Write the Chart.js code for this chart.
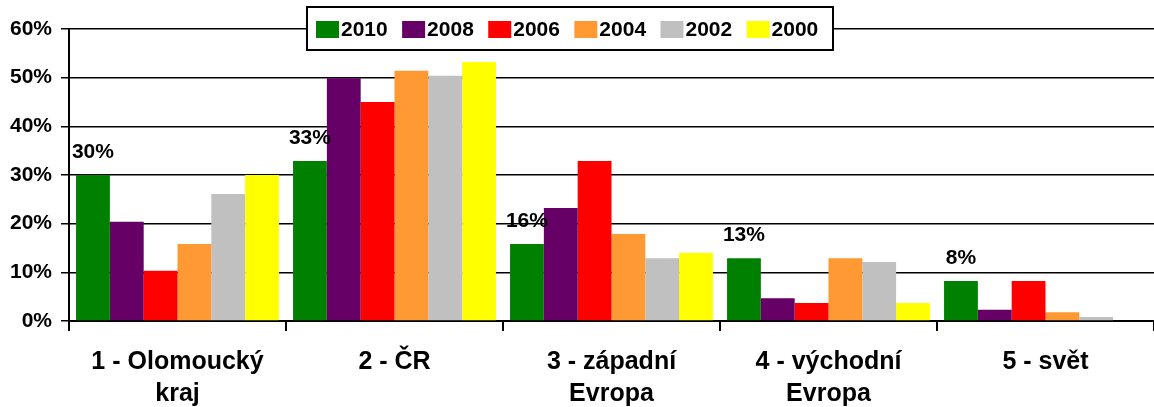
<!DOCTYPE html>
<html>
<head>
<meta charset="utf-8">
<script src="https://cdn.jsdelivr.net/npm/chart.js@4.4.0/dist/chart.umd.min.js"></script>
<style>
  body { margin: 0; background: #fff; }
</style>
</head>
<body>
<canvas id="graph" width="1154" height="407"></canvas>
<script>
const categories = [
  ["1 - Olomoucký", "kraj"],
  ["2 - ČR"],
  ["3 - západní", "Evropa"],
  ["4 - východní", "Evropa"],
  ["5 - svět"]
]
const years = ["2010", "2008", "2006", "2004", "2002", "2000"]
const colors = ["#008000", "#660066", "#FF0000", "#FF9933", "#C0C0C0", "#FFFF00"]

const v2010 = [30, 32.9, 15.8, 12.9, 8.2]
const v2008 = [20.4, 49.9, 23.2, 4.7, 2.3]
const v2006 = [10.3, 45, 32.9, 3.7, 8.2]
const v2004 = [15.8, 51.4, 17.9, 12.9, 1.8]
const v2002 = [26.1, 50.4, 12.9, 12.1, 0.8]
const v2000 = [30, 53.2, 14, 3.7, 0]

const yTicks = [0, 10, 20, 30, 40, 50, 60]

const font = "'Liberation Sans', Arial, sans-serif"
const series = [v2010, v2008, v2006, v2004, v2002, v2000]

const data = {
  labels: categories,
  datasets: series.map((values, i) => ({
    label: years[i],
    data: values,
    backgroundColor: colors[i],
    borderWidth: 0,
    categoryPercentage: 0.935,
    barPercentage: 1
  }))
}

// value labels above the 2010 bars
const topLabels = {
  id: "topLabels",
  afterDatasetsDraw(chart) {
    const ctx = chart.ctx
    const meta = chart.getDatasetMeta(0)
    ctx.save()
    ctx.font = "bold 21px " + font
    ctx.fillStyle = "#000"
    ctx.textAlign = "center"
    ctx.textBaseline = "alphabetic"
    meta.data.forEach((bar, i) => {
      ctx.fillText(Math.round(v2010[i]) + "%", bar.x, bar.y - 17)
    })
    ctx.restore()
  }
}

// boxed legend drawn over the top of the plot
const boxLegend = {
  id: "boxLegend",
  afterDraw(chart) {
    const ctx = chart.ctx
    const left = 307, top = 7, w = 526, h = 43
    ctx.save()
    ctx.fillStyle = "#fff"
    ctx.fillRect(left, top, w, h)
    ctx.strokeStyle = "#000"
    ctx.lineWidth = 2
    ctx.strokeRect(left, top, w, h)
    ctx.font = "bold 21px " + font
    ctx.textBaseline = "middle"
    ctx.textAlign = "left"
    let x = left + 9
    chart.data.datasets.forEach(ds => {
      ctx.fillStyle = ds.backgroundColor
      ctx.fillRect(x, 21, 23, 17)
      ctx.fillStyle = "#000"
      ctx.fillText(ds.label, x + 25, 30)
      x += 25 + ctx.measureText(ds.label).width + 14.4
    })
    ctx.restore()
  }
}

const config = {
  type: "bar",
  data: data,
  options: {
    responsive: false,
    animation: false,
    devicePixelRatio: 1,
    layout: { padding: { top: 29, right: 0, left: 0, bottom: 0 } },
    plugins: {
      legend: { display: false },
      tooltip: { enabled: false }
    },
    scales: {
      x: {
        afterFit: s => { s.height = 86 },
        border: { color: "#000", width: 2 },
        grid: { drawOnChartArea: false, drawTicks: true, tickLength: 10, color: "#000", lineWidth: 2, offset: true },
        ticks: {
          color: "#000",
          padding: 15,
          autoSkip: false,
          maxRotation: 0,
          font: { family: font, size: 25, weight: "bold", lineHeight: 1.28 }
        }
      },
      y: {
        min: yTicks[0],
        max: yTicks[yTicks.length - 1],
        afterFit: s => { s.width = 69 },
        afterBuildTicks: s => { s.ticks = yTicks.map(v => ({ value: v })) },
        border: { color: "#000", width: 2 },
        grid: { color: "#000", lineWidth: 1.5, tickLength: 8 },
        ticks: {
          color: "#000",
          padding: 9,
          callback: v => v + "%",
          font: { family: font, size: 21, weight: "bold" }
        }
      }
    }
  },
  plugins: [topLabels, boxLegend]
}

new Chart(document.querySelector("#graph"), config)
</script>
</body>
</html>
